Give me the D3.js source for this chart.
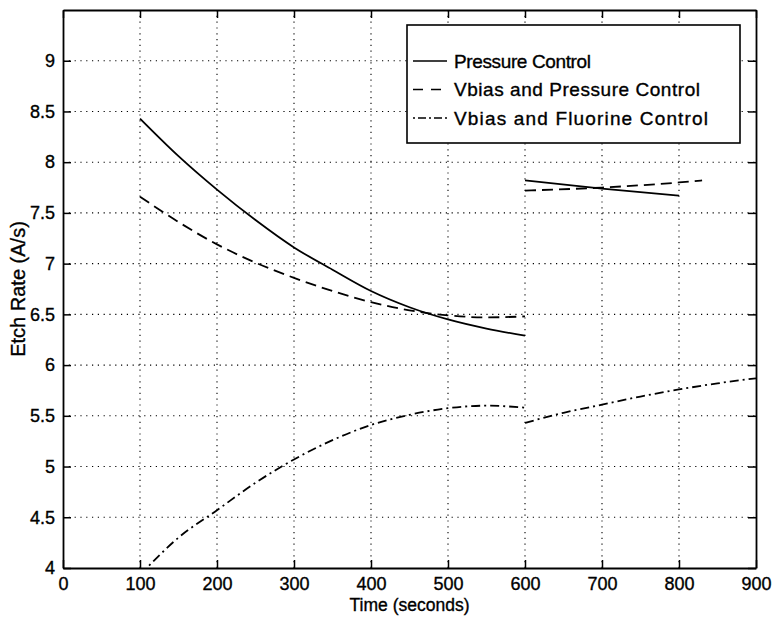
<!DOCTYPE html>
<html>
<head>
<meta charset="utf-8">
<script src="https://cdn.jsdelivr.net/npm/d3@7"></script>
<style>
  html, body { margin: 0; padding: 0; background: #fff; }
  svg { display: block; font-family: "Liberation Sans", Arial, Helvetica, sans-serif; }
  svg text { fill: #000; stroke: #000; stroke-width: 0.35px; }
</style>
</head>
<body>
<svg id="chart" width="774" height="621"></svg>
<script>
// Etch rate over time for three control strategies (two runs each, split at t = 600 s)
const xTicks = [0, 100, 200, 300, 400, 500, 600, 700, 800, 900];
const yTicks = [4, 4.5, 5, 5.5, 6, 6.5, 7, 7.5, 8, 8.5, 9];
const yTickLabels = ["4", "4.5", "5", "5.5", "6", "6.5", "7", "7.5", "8", "8.5", "9"];

const timeFirst = [100, 150, 200, 250, 300, 350, 400, 450, 500, 550, 600];
const pressureFirst = [8.43, 8.06, 7.73, 7.43, 7.16, 6.94, 6.73, 6.57, 6.45, 6.36, 6.29];
const vbiasPressureFirst = [7.66, 7.41, 7.19, 7.01, 6.86, 6.73, 6.62, 6.54, 6.49, 6.47, 6.48];
const vbiasFluorineFirst = [3.93, 4.30, 4.57, 4.84, 5.07, 5.26, 5.41, 5.51, 5.575, 5.60, 5.58];

const timePressureSecond = [600, 700, 800];
const pressureSecond = [7.82, 7.74, 7.67];
const timeVbiasPressureSecond = [600, 700, 800, 830];
const vbiasPressureSecond = [7.72, 7.75, 7.80, 7.82];
const timeVbiasFluorineSecond = [600, 650, 700, 750, 800, 850, 900];
const vbiasFluorineSecond = [5.43, 5.53, 5.61, 5.69, 5.76, 5.82, 5.87];

const legendLabels = ["Pressure Control", "Vbias and Pressure Control", "Vbias and Fluorine Control"];
const legendTextWidths = [137, 246, 254];
const dashPatterns = [null, "11,6", "9,4,2,4"];
const legendDashPatterns = [null, "10,8", "2,3,8,3"];

const svg = d3.select("#chart");
const plotLeft = 63, plotRight = 756, plotTop = 10, plotBottom = 568;
const x = d3.scaleLinear().domain([0, 900]).range([plotLeft, plotRight]);
const y = d3.scaleLinear().domain([4, 9.5]).range([plotBottom, plotTop]);

// clip region for the data lines
svg.append("clipPath").attr("id", "plotClip")
  .append("rect").attr("x", plotLeft).attr("y", plotTop)
  .attr("width", plotRight - plotLeft).attr("height", plotBottom - plotTop);

// dotted grid
const grid = svg.append("g").attr("stroke", "#000").attr("stroke-width", 1.1)
  .attr("stroke-dasharray", "1.2,4.6");
grid.selectAll("line.gx").data(xTicks.slice(1, -1)).join("line")
  .attr("x1", d => x(d)).attr("x2", d => x(d)).attr("y1", plotTop).attr("y2", plotBottom);
grid.selectAll("line.gy").data(yTicks.slice(1)).join("line")
  .attr("y1", d => y(d)).attr("y2", d => y(d)).attr("x1", plotLeft).attr("x2", plotRight);

// axes with inward ticks on all four sides
const tickLen = 8;
const axisBottom = svg.append("g").attr("transform", `translate(0,${plotBottom})`)
  .call(d3.axisBottom(x).tickValues(xTicks).tickSizeInner(-tickLen).tickSizeOuter(0).tickPadding(12));
const axisTop = svg.append("g").attr("transform", `translate(0,${plotTop})`)
  .call(d3.axisTop(x).tickValues(xTicks).tickSizeInner(-tickLen).tickSizeOuter(0).tickFormat(""));
const axisLeft = svg.append("g").attr("transform", `translate(${plotLeft},0)`)
  .call(d3.axisLeft(y).tickValues(yTicks).tickSizeInner(-tickLen).tickSizeOuter(0).tickPadding(16)
    .tickFormat((d, i) => yTickLabels[i]));
const axisRight = svg.append("g").attr("transform", `translate(${plotRight},0)`)
  .call(d3.axisRight(y).tickValues(yTicks).tickSizeInner(-tickLen).tickSizeOuter(0).tickFormat(""));

[axisBottom, axisTop, axisLeft, axisRight].forEach(g => {
  g.select(".domain").attr("stroke", "#000").attr("stroke-width", 1.8);
  g.selectAll(".tick line").attr("stroke", "#000").attr("stroke-width", 1.5);
  g.selectAll(".tick text").attr("font-size", 18)
    .attr("font-family", "Liberation Sans, Arial, sans-serif");
});
axisBottom.selectAll(".tick text").attr("dy", "0.55em");
axisLeft.selectAll(".tick text").attr("dx", "8px");

// axis titles
svg.append("text").attr("x", (plotLeft + plotRight) / 2).attr("y", 611)
  .attr("text-anchor", "middle").attr("font-size", 17.5).text("Time (seconds)");
svg.append("text").attr("transform", `translate(25,${(plotTop + plotBottom) / 2}) rotate(-90)`)
  .attr("text-anchor", "middle").attr("font-size", 20).text("Etch Rate (A/s)");

// data lines
const line = d3.line().x(d => x(d[0])).y(d => y(d[1])).curve(d3.curveMonotoneX);
const segments = [
  { t: timeFirst, v: pressureFirst, s: 0 },
  { t: timePressureSecond, v: pressureSecond, s: 0 },
  { t: timeFirst, v: vbiasPressureFirst, s: 1 },
  { t: timeVbiasPressureSecond, v: vbiasPressureSecond, s: 1 },
  { t: timeFirst, v: vbiasFluorineFirst, s: 2 },
  { t: timeVbiasFluorineSecond, v: vbiasFluorineSecond, s: 2 }
];
const lines = svg.append("g").attr("clip-path", "url(#plotClip)");
segments.forEach(seg => {
  lines.append("path")
    .datum(seg.t.map((t, i) => [t, seg.v[i]]))
    .attr("d", line)
    .attr("fill", "none").attr("stroke", "#000").attr("stroke-width", 1.8)
    .attr("stroke-dasharray", dashPatterns[seg.s]);
});

// legend
const lg = svg.append("g");
lg.append("rect").attr("x", 407).attr("y", 25).attr("width", 333).attr("height", 118)
  .attr("fill", "#fff").attr("stroke", "#000").attr("stroke-width", 1.6);
const rowY = [61, 89.5, 118];
legendLabels.forEach((label, i) => {
  lg.append("line").attr("x1", 413).attr("x2", 447).attr("y1", rowY[i]).attr("y2", rowY[i])
    .attr("stroke", "#000").attr("stroke-width", 1.7)
    .attr("stroke-dasharray", legendDashPatterns[i]);
  lg.append("text").attr("x", 454).attr("y", rowY[i]).attr("dy", "0.35em")
    .attr("font-size", 19)
    .attr("textLength", legendTextWidths[i]).attr("lengthAdjust", "spacing")
    .text(label);
});
</script>
</body>
</html>
